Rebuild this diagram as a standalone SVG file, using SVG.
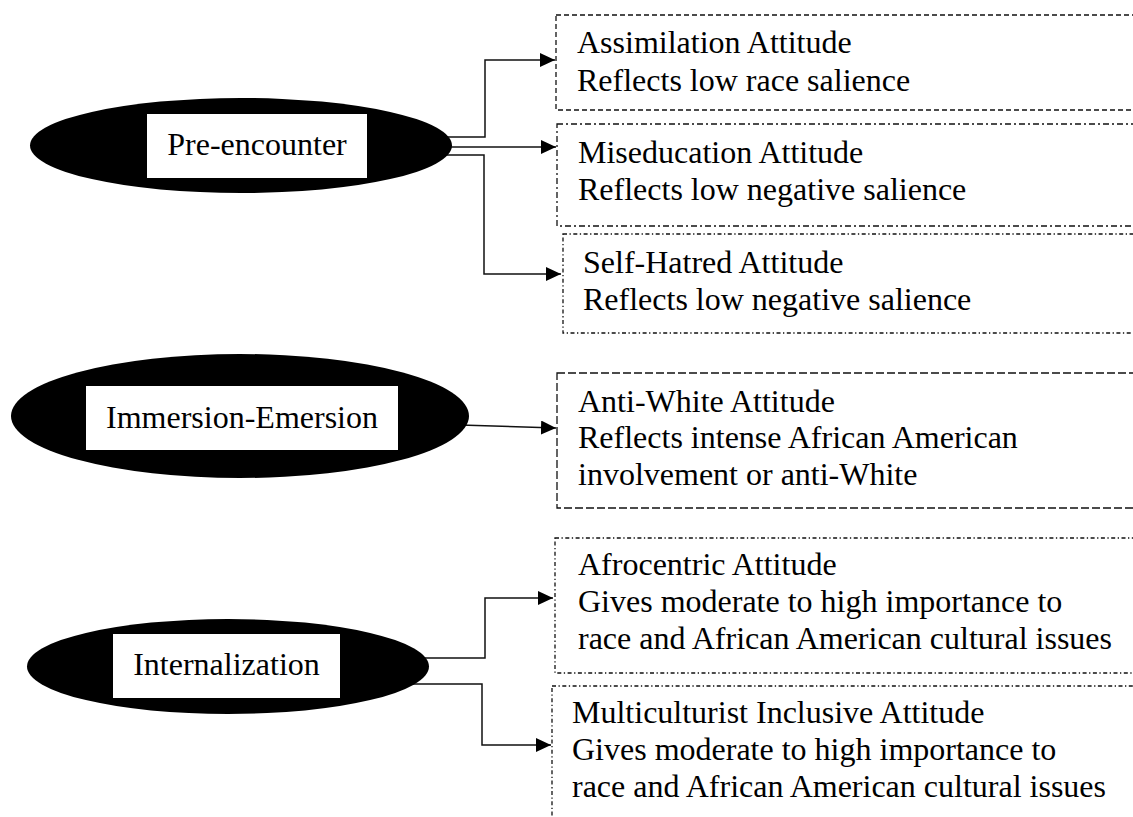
<svg xmlns="http://www.w3.org/2000/svg" width="1133" height="817" viewBox="0 0 1133 817">
  <defs>
    <marker id="arrow" markerWidth="15" markerHeight="14" refX="15" refY="7" orient="auto" markerUnits="userSpaceOnUse">
      <path d="M0,0 L15,7 L0,14 Z" fill="#000"/>
    </marker>
    <style>
      .stage { fill: #000; }
      .label-bg { fill: #fff; }
      .label { font-family: "Liberation Serif", "Times New Roman", serif; font-size: 32px; fill: #000; text-anchor: middle; }
      .box { fill: none; stroke: #111; stroke-width: 1.3; }
      .dash { stroke-dasharray: 5 3; }
      .dash-long { stroke-dasharray: 8 3; }
      .dashdot { stroke-dasharray: 6 3 2 3; }
      .dashdot-fine { stroke-dasharray: 4 2.5 1.3 2.5; }
      .desc { font-family: "Liberation Serif", "Times New Roman", serif; font-size: 32px; fill: #000; }
      .link { fill: none; stroke: #111; stroke-width: 1.5; marker-end: url(#arrow); }
    </style>
  </defs>
  <rect width="1133" height="817" fill="#fff"/>

  <!-- connectors -->
  <g id="connectors">
    <path class="link" d="M440,137 H485 V60 H555"/>
    <path class="link" d="M440,147 H556"/>
    <path class="link" d="M440,155 H484 V274 H561"/>
    <path class="link" d="M460,425 L556,428"/>
    <path class="link" d="M420,658 H485 V598 H553"/>
    <path class="link" d="M405,684 H482 V745 H551"/>
  </g>

  <!-- stage nodes -->
  <g id="pre-encounter">
    <ellipse class="stage" cx="241" cy="145.5" rx="211" ry="47.5"/>
    <rect class="label-bg" x="147" y="114" width="220" height="64"/>
    <text class="label" x="257" y="155">Pre-encounter</text>
  </g>
  <g id="immersion-emersion">
    <ellipse class="stage" cx="240" cy="416" rx="229" ry="62"/>
    <rect class="label-bg" x="86" y="386" width="312" height="64"/>
    <text class="label" x="242" y="428">Immersion-Emersion</text>
  </g>
  <g id="internalization">
    <ellipse class="stage" cx="228" cy="666.5" rx="201" ry="47.5"/>
    <rect class="label-bg" x="113" y="634" width="227" height="64"/>
    <text class="label" x="226.5" y="675">Internalization</text>
  </g>

  <!-- attitude nodes -->
  <g id="assimilation">
    <rect class="box dash" x="556" y="15" width="600" height="95"/>
    <text class="desc" x="577" y="53">Assimilation Attitude</text>
    <text class="desc" x="577" y="91">Reflects low race salience</text>
  </g>
  <g id="miseducation">
    <rect class="box dashdot" x="557" y="124" width="600" height="102"/>
    <text class="desc" x="578" y="163">Miseducation Attitude</text>
    <text class="desc" x="578" y="200">Reflects low negative salience</text>
  </g>
  <g id="self-hatred">
    <rect class="box dashdot-fine" x="563" y="234" width="600" height="99"/>
    <text class="desc" x="583" y="273">Self-Hatred Attitude</text>
    <text class="desc" x="583" y="310">Reflects low negative salience</text>
  </g>
  <g id="anti-white">
    <rect class="box dash-long" x="557" y="373" width="600" height="135"/>
    <text class="desc" x="578" y="412">Anti-White Attitude</text>
    <text class="desc" x="578" y="448">Reflects intense African American</text>
    <text class="desc" x="578" y="485">involvement or anti-White</text>
  </g>
  <g id="afrocentric">
    <rect class="box dashdot-fine" x="555" y="538" width="600" height="135"/>
    <text class="desc" x="578" y="575">Afrocentric Attitude</text>
    <text class="desc" x="578" y="612">Gives moderate to high importance to</text>
    <text class="desc" x="578" y="649">race and African American cultural issues</text>
  </g>
  <g id="multiculturist">
    <rect class="box dashdot-fine" x="552" y="686" width="600" height="160"/>
    <text class="desc" x="572" y="723">Multiculturist Inclusive Attitude</text>
    <text class="desc" x="572" y="760">Gives moderate to high importance to</text>
    <text class="desc" x="572" y="797">race and African American cultural issues</text>
  </g>
</svg>
